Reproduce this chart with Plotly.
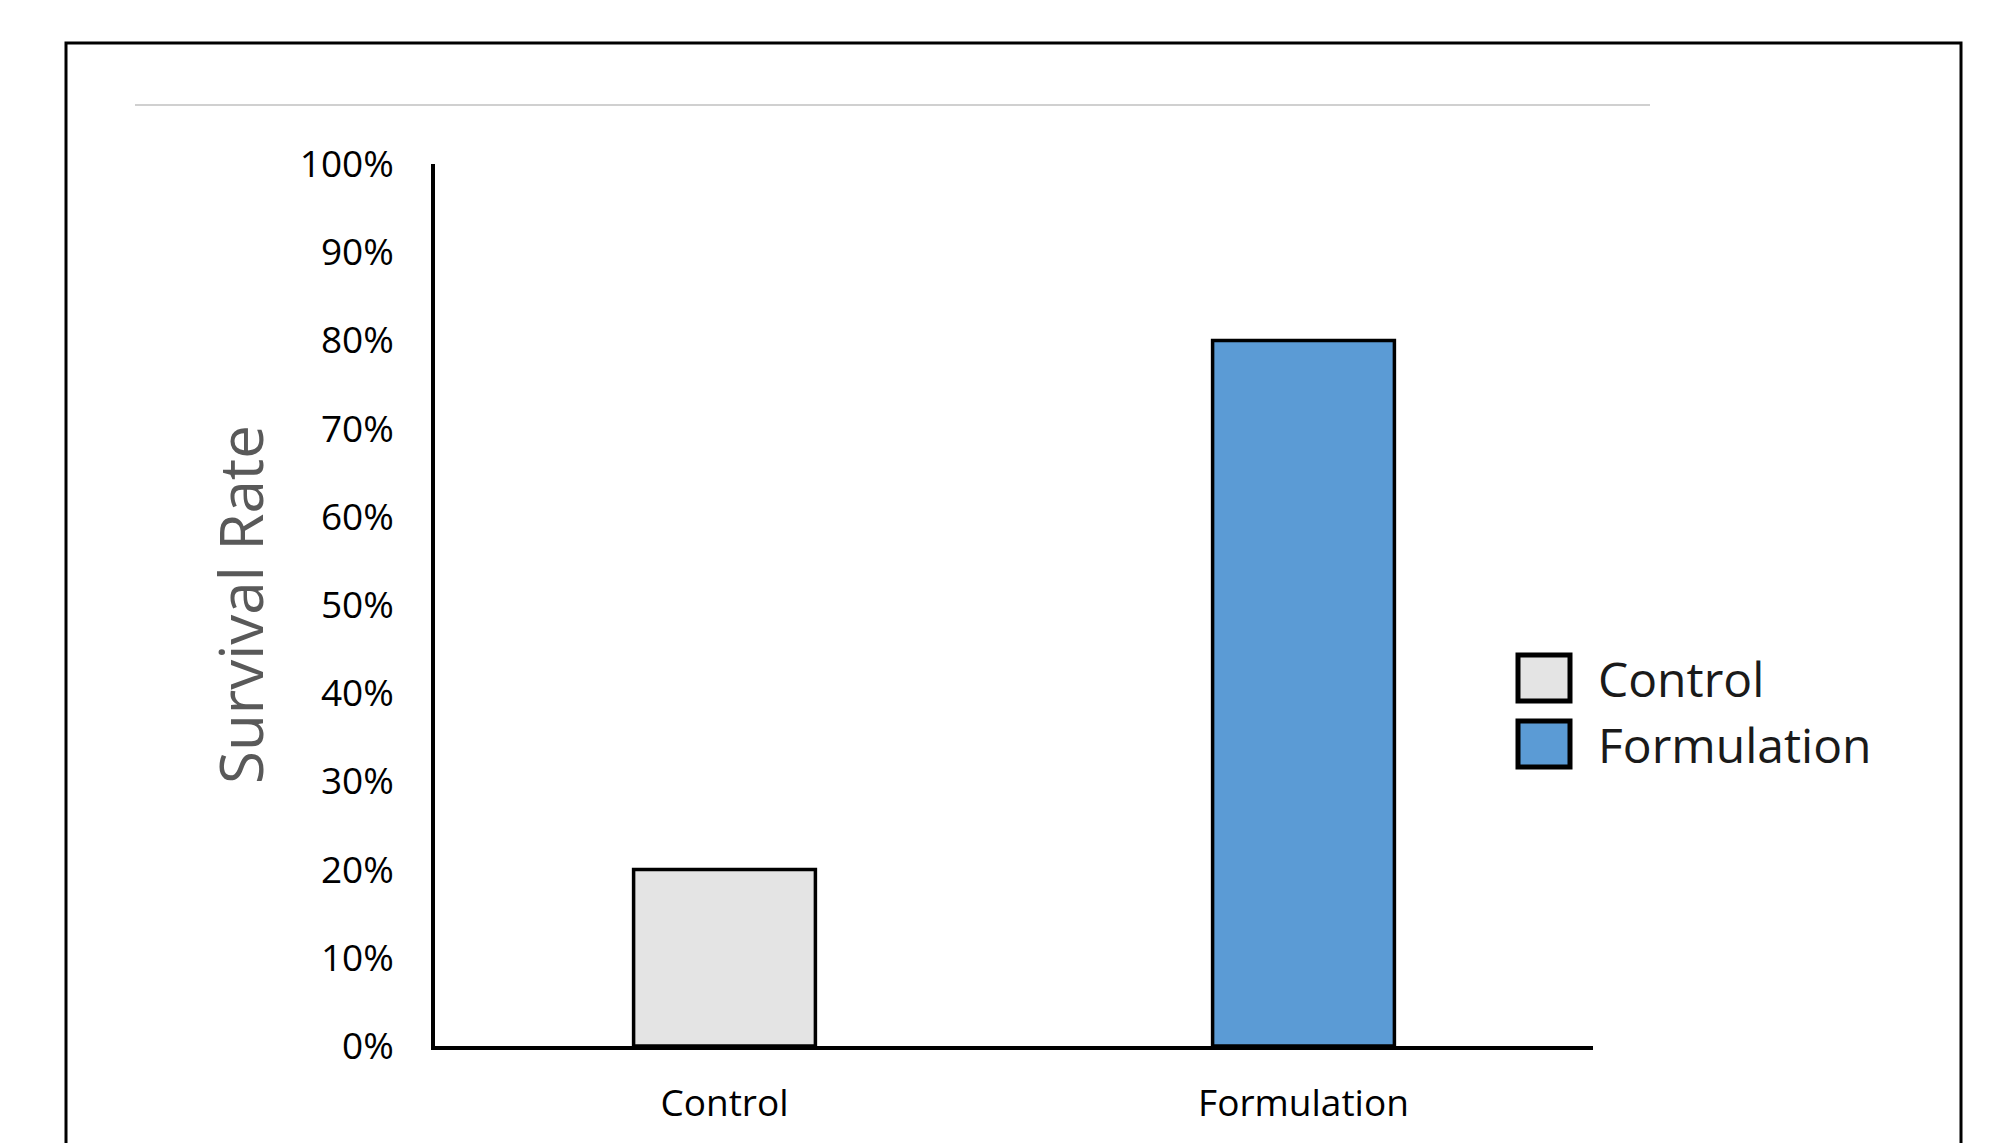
import plotly.graph_objects as go

# ---- data ----
categories = ["Control", "Formulation"]
survival_rate = [0.20, 0.80]
bar_colors = ["#E4E4E4", "#5B9BD5"]
y_tick_values = [0, 0.1, 0.2, 0.3, 0.4, 0.5, 0.6, 0.7, 0.8, 0.9, 1.0]
y_tick_labels = ["0%", "10%", "20%", "30%", "40%", "50%", "60%", "70%", "80%", "90%", "100%"]
y_title = "Survival Rate"

# ---- layout geometry ----
OFF = 8  # default page body margin
W, H = 1990 - OFF, 1143 - OFF
# plot area edges in page pixels
PL, PR, PT, PB = 435, 1593, 164, 1046


def px_x(x):
    return (x - PL) / (PR - PL)


def px_y(y):
    return (PB - y) / (PB - PT)


FONT = "Open Sans"

fig = go.Figure()
for cat, val, col in zip(categories, survival_rate, bar_colors):
    fig.add_trace(go.Bar(
        x=[cat], y=[val], name=cat,
        width=0.314,
        marker=dict(color=col, line=dict(color="#000000", width=3.5)),
        showlegend=False,
    ))

shapes = []
annotations = []

# outer frame (open at bottom, extends beyond picture)
shapes.append(dict(type="rect", xref="paper", yref="paper",
                   x0=px_x(66), x1=px_x(1961), y0=px_y(1300), y1=px_y(43),
                   line=dict(color="#000000", width=3), fillcolor="rgba(0,0,0,0)", layer="below"))
# light grey rule near top
shapes.append(dict(type="line", xref="paper", yref="paper",
                   x0=px_x(135), x1=px_x(1650), y0=px_y(105), y1=px_y(105),
                   line=dict(color="#D0D0D0", width=2)))

# custom legend (large swatches)
legend_tops = [654, 720]
for i, (cat, col) in enumerate(zip(categories, bar_colors)):
    top = legend_tops[i]
    shapes.append(dict(type="rect", xref="paper", yref="paper",
                       x0=px_x(1518), x1=px_x(1570), y0=px_y(top + 47), y1=px_y(top + 1),
                       line=dict(color="#000000", width=5), fillcolor=col))
    annotations.append(dict(text=cat, xref="paper", yref="paper",
                            x=px_x(1596), y=px_y(top + 24), xanchor="left", yanchor="middle",
                            showarrow=False, font=dict(family=FONT, size=48, color="#1A1A1A")))

# y-axis title
annotations.append(dict(text=y_title, xref="paper", yref="paper",
                        x=px_x(240), y=0.5, xanchor="center", yanchor="middle",
                        textangle=-90, showarrow=False,
                        font=dict(family=FONT, size=60, color="#595959")))

fig.update_layout(
    width=W, height=H,
    margin=dict(l=PL - OFF, r=W - (PR - OFF), t=PT - OFF, b=H - (PB - OFF), pad=0),
    paper_bgcolor="#FFFFFF", plot_bgcolor="#FFFFFF",
    barmode="overlay",
    showlegend=False,
    shapes=shapes,
    annotations=annotations,
    font=dict(family=FONT, color="#000000"),
    xaxis=dict(
        type="category", categoryorder="array", categoryarray=categories,
        range=[-0.5, 1.5],
        showline=True, linecolor="#000000", linewidth=3.5,
        showgrid=False, zeroline=False, ticks="",
        tickfont=dict(family=FONT, size=37, color="#000000"),
        ticklabelstandoff=22,
    ),
    yaxis=dict(
        range=[0, 1],
        tickvals=y_tick_values, ticktext=y_tick_labels,
        showline=True, linecolor="#000000", linewidth=3.5,
        showgrid=False, zeroline=False, ticks="",
        tickfont=dict(family=FONT, size=37, color="#000000"),
        ticklabelstandoff=30,
    ),
)

fig.write_html("out.html")
